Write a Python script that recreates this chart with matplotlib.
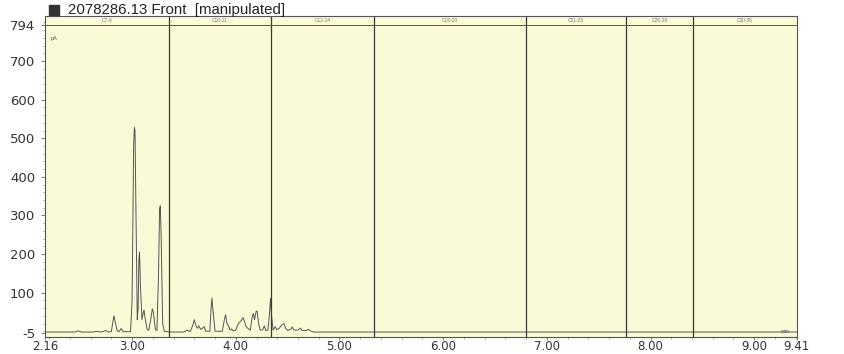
import numpy as np
import matplotlib
matplotlib.use("Agg")
import matplotlib.pyplot as plt
from matplotlib.patches import Rectangle
from matplotlib.ticker import MultipleLocator

plt.rcParams['font.family'] = ['Liberation Sans', 'DejaVu Sans']

# trace vertices (time in min, signal in pA)
times = [2.16, 2.45, 2.48, 2.51, 2.62, 2.66, 2.69, 2.72, 2.745, 2.77, 2.80,
         2.818, 2.825, 2.833, 2.855, 2.875, 2.895, 2.915, 2.985,
         3.00, 3.015, 3.022, 3.028, 3.04, 3.05, 3.058, 3.066, 3.072, 3.08,
         3.095, 3.105, 3.115, 3.125, 3.145, 3.16, 3.18, 3.195, 3.205, 3.225,
         3.24, 3.255, 3.265, 3.272, 3.28, 3.295, 3.31, 3.36,
         3.50, 3.53, 3.56, 3.585, 3.60, 3.615, 3.63, 3.645, 3.66, 3.68, 3.695,
         3.71, 3.75, 3.762, 3.77, 3.78, 3.80, 3.87, 3.89, 3.902, 3.915, 3.93,
         3.945, 3.96, 3.975, 4.00, 4.025, 4.05, 4.07, 4.085, 4.10, 4.115,
         4.14, 4.16, 4.17, 4.18, 4.195, 4.205, 4.22, 4.235, 4.26, 4.275,
         4.29, 4.31, 4.325, 4.335, 4.345, 4.36, 4.38, 4.395, 4.42, 4.45,
         4.465, 4.48, 4.50, 4.53, 4.545, 4.56, 4.60, 4.625, 4.64, 4.68,
         4.70, 4.72, 4.75, 9.41]
signal = [-2, -2, 1, -2, -2, 0, -2, -1, 2, -2, -1,
          30, 40, 30, 2, -1, 7, -1, -1,
          80, 480, 528, 520, 250, 30, 60, 190, 205, 120,
          30, 45, 55, 35, 5, 2, 30, 58, 50, 5,
          2, 150, 315, 325, 250, 20, 0, -2,
          -2, 3, -1, 15, 30, 15, 8, 14, 5, 8, 12,
          0, 0, 60, 86, 55, 0, 0, 30, 43, 20, 14,
          3, 6, 1, 3, 20, 27, 35, 25, 12, 8,
          3, 40, 46, 30, 50, 53, 20, 3, 4, 14,
          2, 3, 45, 85, 40, 3, 12, 4, 8, 18,
          20, 8, 2, 5, 11, 3, 3, 8, 2, 2,
          5, 1, -2, -2]

# carbon-range windows
window_edges = [2.16, 3.356, 4.34, 5.33, 6.80, 7.76, 8.41, 9.41]
window_names = ["C7-9", "C10-11", "C12-14", "C15-20", "C21-25", "C26-29", "C30-35"]

x_ticks = [2.16, 3.00, 4.00, 5.00, 6.00, 7.00, 8.00, 9.00, 9.41]
y_ticks = [-5, 100, 200, 300, 400, 500, 600, 700, 794]

fig = plt.figure(figsize=(8.44, 3.54), dpi=100)
ax = fig.add_axes([0.0533, 0.049, 0.8907, 0.906])
ax.set_facecolor("#fafad6")

ax.plot(times, signal, color="#555555", lw=0.7)

for e in window_edges[1:-1]:
    ax.axvline(e, color="#3a3a3a", lw=0.9)
ax.axhline(794, color="#555555", lw=0.7)
for i, name in enumerate(window_names):
    ax.text((window_edges[i] + window_edges[i + 1]) / 2, 806, name,
            ha="center", va="center", fontsize=3.5, color="#777777")

ax.set_xlim(2.16, 9.41)
ax.set_ylim(-14, 817)
ax.set_xticks(x_ticks)
ax.set_xticklabels(["%.2f" % t for t in x_ticks], fontsize=8.5,
                   family="DejaVu Sans")
ax.set_yticks(y_ticks)
ax.set_yticklabels([str(v) for v in y_ticks], fontsize=9.5,
                   family="DejaVu Sans")
ax.xaxis.set_minor_locator(MultipleLocator(0.2))
ax.yaxis.set_minor_locator(MultipleLocator(20))
ax.tick_params(which="major", length=3, width=0.6, colors="#666666",
               labelcolor="#333333")
ax.tick_params(which="minor", length=1.5, width=0.5, colors="#888888")
ax.tick_params(axis="y", pad=4)
ax.tick_params(axis="x", which="major", length=2, pad=0.5)
for s in ax.spines.values():
    s.set_color("#555555")
    s.set_linewidth(0.8)

ax.text(0.008, 0.925, "pA", transform=ax.transAxes, fontsize=4, color="#555555")
ax.text(0.99, 0.012, "min", transform=ax.transAxes, fontsize=4, color="#555555", ha="right")

fig.add_artist(Rectangle((0.058, 0.957), 0.012, 0.03, transform=fig.transFigure,
                         color="#333333"))
fig.text(0.08, 0.972, "2078286.13 Front  [manipulated]", fontsize=10.8,
         color="#222222", va="center")

fig.savefig("out.png", dpi=100)
